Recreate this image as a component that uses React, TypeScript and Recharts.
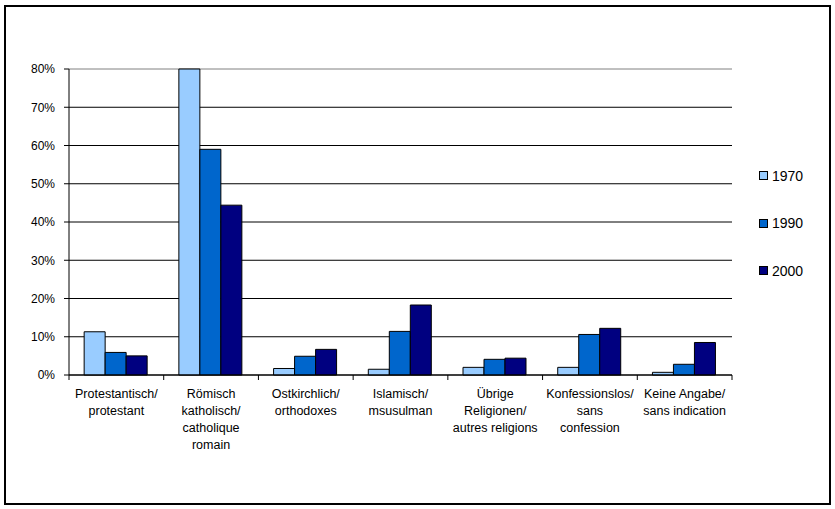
import { BarChart, Bar, XAxis, YAxis, CartesianGrid, Legend } from "recharts"

// category labels, split into the lines shown under the axis
const categories = [
  ["Protestantisch/", "protestant"],
  ["Römisch", "katholisch/", "catholique", "romain"],
  ["Ostkirchlich/", "orthodoxes"],
  ["Islamisch/", "msusulman"],
  ["Übrige", "Religionen/", "autres religions"],
  ["Konfessionslos/", "sans", "confession"],
  ["Keine Angabe/", "sans indication"],
]

const years = ["1970", "1990", "2000"]
const values1970 = [11.3, 80.0, 1.7, 1.5, 2.0, 2.0, 0.7]
const values1990 = [5.9, 59.0, 4.9, 11.4, 4.1, 10.6, 2.8]
const values2000 = [5.0, 44.4, 6.7, 18.3, 4.4, 12.2, 8.5]
const yTicks = [0, 10, 20, 30, 40, 50, 60, 70, 80]
const colors = ["#99CCFF", "#0066CC", "#000080"]

const data = categories.map((lines, i) => ({
  name: lines.join("\n"),
  y1970: values1970[i],
  y1990: values1990[i],
  y2000: values2000[i],
}))

const W = 835
const H = 509
const margin = { top: 69, right: 103, left: 0, bottom: 0 }
const yAxisWidth = 69
const halfBand = (W - margin.right - yAxisWidth) / categories.length / 2
const font = "'Liberation Sans', Arial, sans-serif"

function CategoryTick(props: any) {
  const { x, y, payload, index, visibleTicksCount } = props
  const lines = String(payload.value).split("\n")
  const half = payload.offset || halfBand
  const axisY = y - 5
  const last = (visibleTicksCount ?? categories.length) - 1
  return (
    <g>
      <line x1={x - half} x2={x - half} y1={axisY} y2={axisY + 5} stroke="#000" />
      {index === last && <line x1={x + half} x2={x + half} y1={axisY} y2={axisY + 5} stroke="#000" />}
      <text x={x} y={y + 18} textAnchor="middle" fontSize={12.5} fill="#000" fontFamily={font}>
        {lines.map((l, i) => (
          <tspan key={i} x={x} dy={i === 0 ? 0 : 17}>
            {l}
          </tspan>
        ))}
      </text>
    </g>
  )
}

function GridLine(p: any) {
  const isTop = p.y !== undefined && Math.abs(p.y1 - p.y) < 0.5
  return <line key={p.key} x1={p.x1} y1={p.y1} x2={p.x2} y2={p.y2} stroke={isTop ? "#808080" : "#000"} strokeWidth={1} />
}

function LegendBox(props: any) {
  const items = props.payload || []
  return (
    <div style={{ fontFamily: font, fontSize: 14 }}>
      {items.map((it: any) => (
        <div key={it.value} style={{ height: 47.5, display: "flex", alignItems: "center" }}>
          <span style={{ width: 7, height: 7, background: it.color, border: "1px solid #000", marginRight: 4 }} />
          <span>{it.value}</span>
        </div>
      ))}
    </div>
  )
}

export default function App() {
  return (
    <div style={{ position: "absolute", left: 0, top: 0, width: W, height: H, background: "#fff" }}>
      <div style={{ position: "absolute", left: 4, top: 5, width: 823, height: 496, border: "2px solid #000" }} />
      <BarChart width={W} height={H} data={data} margin={margin} barCategoryGap="16%" barGap={0}>
        <CartesianGrid vertical={false} horizontal={GridLine as any} />
        <XAxis
          dataKey="name"
          interval={0}
          height={H - 375}
          tickSize={5}
          tickMargin={0}
          tickLine={false}
          axisLine={{ stroke: "#000" }}
          tick={<CategoryTick />}
        />
        <YAxis
          domain={[0, 80]}
          ticks={yTicks}
          width={yAxisWidth}
          tickSize={5}
          tickMargin={9}
          tickFormatter={(v) => `${v}%`}
          axisLine={{ stroke: "#000" }}
          tickLine={{ stroke: "#000" }}
          tick={{ fill: "#000", fontSize: 12, fontFamily: font }}
        />
        <YAxis
          yAxisId="right"
          orientation="right"
          domain={[0, 80]}
          width={0}
          tick={false}
          tickLine={false}
          axisLine={{ stroke: "#808080" }}
        />
        <Legend
          layout="vertical"
          align="center"
          verticalAlign="middle"
          content={<LegendBox />}
          wrapperStyle={{ left: 759, top: 152, width: 70 }}
        />
        <Bar dataKey="y1970" name={years[0]} fill={colors[0]} stroke="#000" isAnimationActive={false} />
        <Bar dataKey="y1990" name={years[1]} fill={colors[1]} stroke="#000" isAnimationActive={false} />
        <Bar dataKey="y2000" name={years[2]} fill={colors[2]} stroke="#000" isAnimationActive={false} />
      </BarChart>
    </div>
  )
}
